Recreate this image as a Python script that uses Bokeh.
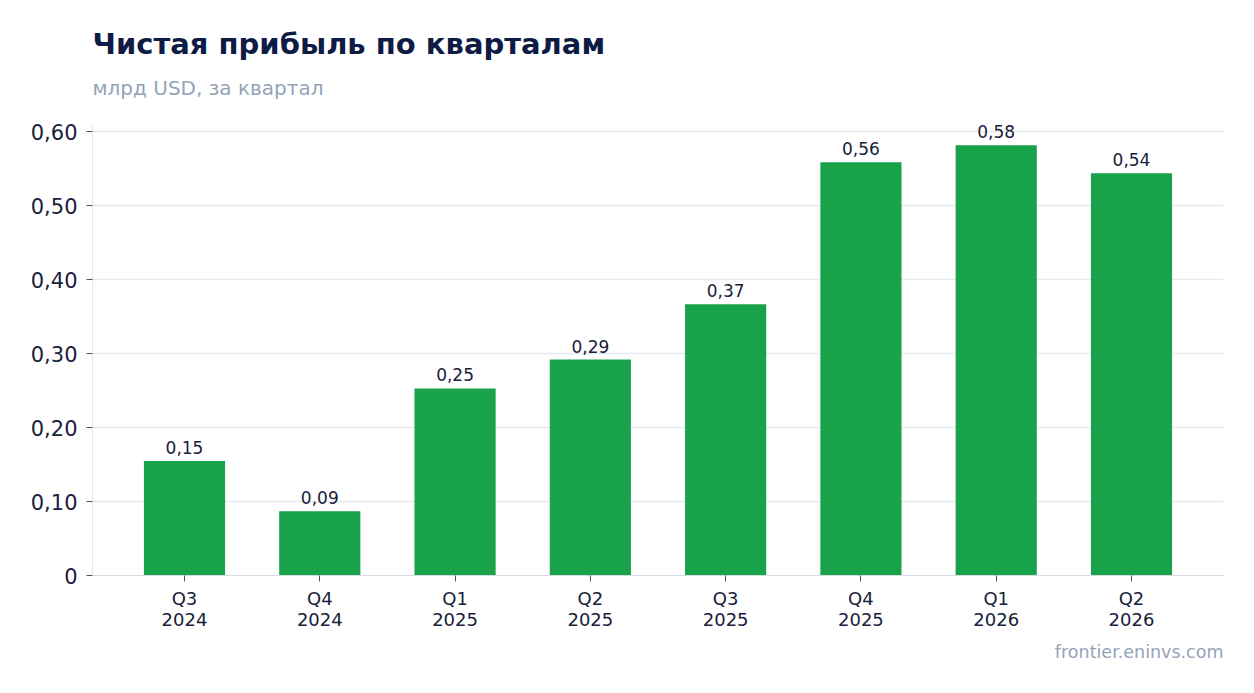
from bokeh.plotting import figure
from bokeh.models import (ColumnDataSource, FactorRange, Range1d, FixedTicker,
                          CustomJSTickFormatter, Title, LabelSet)
from bokeh.core.properties import value
from bokeh.embed import file_html
from bokeh.resources import INLINE

quarters = ["Q3\n2024", "Q4\n2024", "Q1\n2025", "Q2\n2025",
            "Q3\n2025", "Q4\n2025", "Q1\n2026", "Q2\n2026"]
net_profit = [0.155, 0.087, 0.253, 0.292, 0.367, 0.559, 0.582, 0.544]
bar_labels = ["0,15", "0,09", "0,25", "0,29", "0,37", "0,56", "0,58", "0,54"]
y_ticks = [0, 0.1, 0.2, 0.3, 0.4, 0.5, 0.6]
title_text = "Чистая прибыль по кварталам"
subtitle_text = "млрд USD, за квартал"
source_text = "frontier.eninvs.com"

FONT = "DejaVu Sans"
DARK = "#18213a"
MUTED = "#94a3b8"

src = ColumnDataSource(dict(q=quarters, v=net_profit, lab=bar_labels))

p = figure(width=1238, height=677, output_backend="svg", toolbar_location=None,
           x_range=FactorRange(*quarters, range_padding=0.18, range_padding_units="absolute"),
           y_range=Range1d(0, 0.61),
           min_border_left=92, min_border_right=15, min_border_top=124, min_border_bottom=102)
p.outline_line_color = None
p.background_fill_color = "white"
p.border_fill_color = "white"

p.vbar(x="q", top="v", width=0.6, source=src, fill_color="#18a34a", line_color=None)

labels = LabelSet(x="q", y="v", text="lab", source=src, text_align="center",
                  text_baseline="bottom", y_offset=7, text_font=value(FONT),
                  text_font_size="17px", text_color=DARK)
p.add_layout(labels)

# axes
p.yaxis.ticker = FixedTicker(ticks=y_ticks)
p.yaxis.formatter = CustomJSTickFormatter(code="""
return tick == 0 ? "0" : tick.toFixed(2).replace(".", ",");
""")
p.yaxis.major_label_text_font = FONT
p.yaxis.major_label_text_font_size = "21px"
p.yaxis.major_label_text_color = DARK
p.yaxis.axis_line_color = "#e2e8f0"
p.yaxis.major_tick_line_color = "#475569"
p.yaxis.major_tick_out = 6
p.yaxis.major_tick_in = 0
p.yaxis.minor_tick_line_color = None
p.yaxis.major_label_standoff = 9

p.xaxis.major_label_text_font = FONT
p.xaxis.major_label_text_font_size = "18px"
p.xaxis.major_label_text_color = DARK
p.xaxis.major_label_text_line_height = 1.0
p.xaxis.axis_line_color = "#d5dbe3"
p.xaxis.major_tick_line_color = "#475569"
p.xaxis.major_tick_out = 6
p.xaxis.major_tick_in = 0
p.xaxis.major_label_standoff = 6

p.xgrid.grid_line_color = None
p.ygrid.grid_line_color = "#e5e9f0"
p.ygrid.grid_line_width = 1.5

# titles: spacer nearest the frame, then subtitle, then title
spacer = Title(text=" ", text_font=FONT, text_font_size="1px", standoff=22, offset=0)
p.add_layout(spacer, "above")
sub = Title(text=subtitle_text, text_font=FONT, text_font_size="20px",
            text_font_style="normal", text_color=MUTED, align="left", offset=0, standoff=0)
p.add_layout(sub, "above")
main = Title(text=title_text, text_font=FONT, text_font_size="29px",
             text_font_style="bold", text_color="#0d1b45", align="left", offset=0, standoff=26)
p.add_layout(main, "above")

foot = Title(text=source_text, text_font=FONT, text_font_size="17.5px",
             text_font_style="normal", text_color=MUTED, align="right", offset=0, standoff=15)
p.add_layout(foot, "below")

open("out.html", "w").write(file_html(p, INLINE))
